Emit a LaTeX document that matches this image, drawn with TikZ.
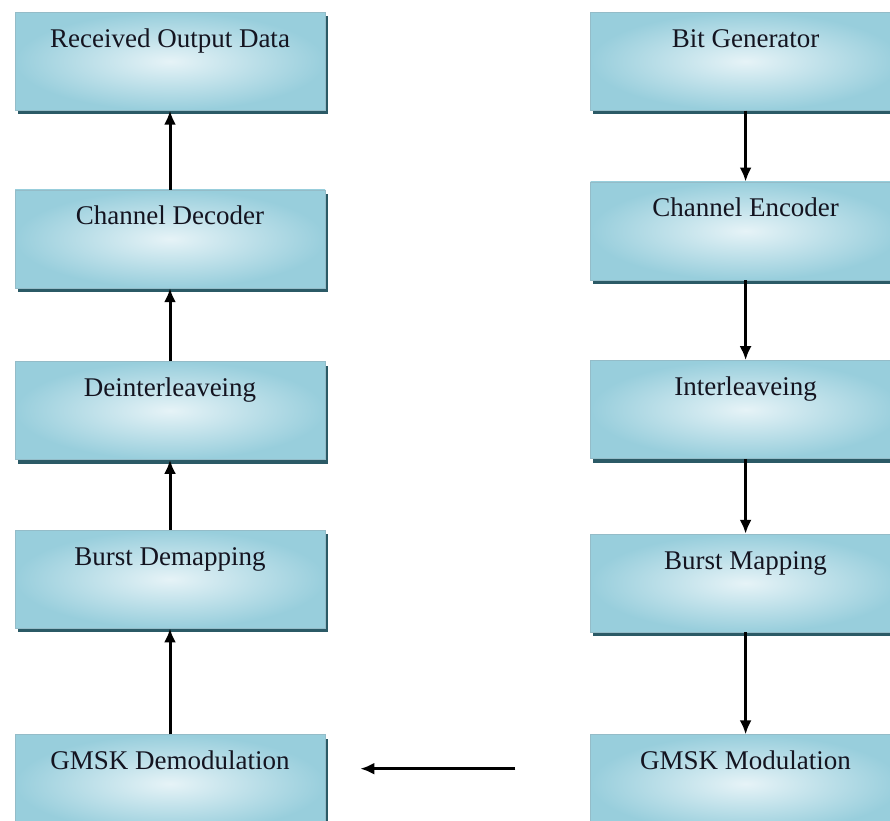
\documentclass[tikz,border=0pt]{standalone}
\usepackage{fontspec}
\setmainfont{Liberation Serif}
\usepackage{xcolor}
\usetikzlibrary{arrows, arrows.meta, shapes, positioning, shadows}

\definecolor{boxlight}{HTML}{E6F3F7}
\definecolor{boxdark}{HTML}{98CEDC}
\definecolor{boxedge}{HTML}{94BCC8}
\definecolor{boxshadow}{HTML}{2B5A66}
\definecolor{boxtext}{HTML}{141420}

\begin{document}
\begin{tikzpicture}[x=1pt, y=1pt,
    blk/.style={rectangle, draw=boxedge, line width=0.6pt, shading=radial, inner color=boxlight, outer color=boxdark,
                minimum width=310pt, inner xsep=0pt, inner ysep=0pt, text height=35pt, text depth=63pt,
                text=boxtext, font=\fontsize{27}{30}\selectfont,
                general shadow={fill=boxshadow, shadow xshift=2.5pt, shadow yshift=-4pt}},
    flow/.style={-{Latex[length=14pt, width=12pt]}, line width=3pt}]
            \useasboundingbox (0,0) rectangle (890,-820);
            % receiver side
            \node[blk, anchor=north] (rx1) at (170,-12) {Received Output Data};
            \node[blk] (rx2) [below = 79pt of rx1] {Channel Decoder};
            \node[blk] (rx3) [below = 73pt of rx2] {Deinterleaveing};
            \node[blk] (rx4) [below = 70pt of rx3] {Burst Demapping};
            \node[blk] (rx5) [below = 106pt of rx4] {GMSK Demodulation};
            % transmitter side
            \node[blk] (tx1) [right = 265pt of rx1] {Bit Generator};
            \node[blk] (tx2) [below = 71pt of tx1] {Channel Encoder};
            \node[blk] (tx3) [below = 80pt of tx2] {Interleaveing};
            \node[blk] (tx4) [below = 75pt of tx3] {Burst Mapping};
            \node[blk] (tx5) [below = 102pt of tx4] {GMSK Modulation};

            \path[flow]  (tx1) edge (tx2);
            \path[flow]  (tx2) edge (tx3);
            \path[flow]  (tx3) edge (tx4);
            \path[flow]  (tx4) edge (tx5);
            \path[flow]  (rx5) edge (rx4);
            \path[flow]  (rx4) edge (rx3);
            \path[flow]  (rx3) edge (rx2);
            \path[flow]  (rx2) edge (rx1);
            \draw[flow, shorten <=75pt, shorten >=35pt] ([yshift=15pt]tx5.west) -- ([yshift=15pt]rx5.east);
\end{tikzpicture}
\end{document}
